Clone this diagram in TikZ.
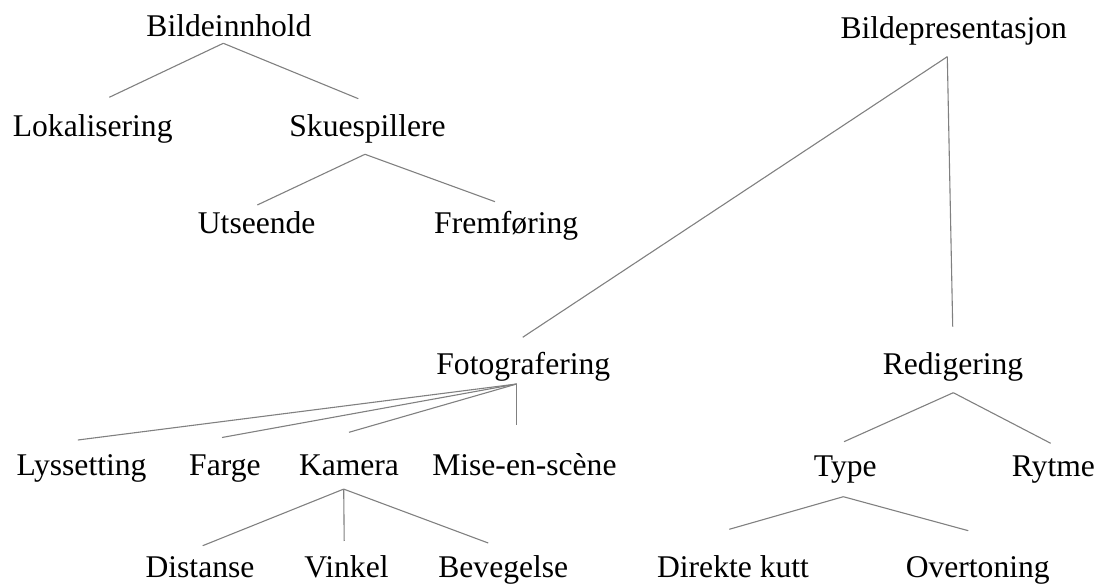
\documentclass[tikz,border=0pt]{standalone}
\usepackage{fontspec}
\setmainfont{Liberation Serif}
\usetikzlibrary{calc}
\begin{document}
\begin{tikzpicture}[x=1pt,y=1pt,
  lbl/.style={anchor=base,inner sep=0pt,font=\fontsize{31.6}{38}\selectfont},
  edge/.style={draw=black!50,line width=1.1pt}]
\useasboundingbox (0,0) rectangle (1099,585);
% nodes
\node[lbl] (bi)   at (229,548)   {Bildeinnhold};
\node[lbl] (lok)  at (92.7,448)  {Lokalisering};
\node[lbl] (sku)  at (367.5,448) {Skuespillere};
\node[lbl] (uts)  at (256.7,351) {Utseende};
\node[lbl] (fre)  at (506.2,351) {Fremføring};
\node[lbl] (bp)   at (953.7,546) {Bildepresentasjon};
\node[lbl] (foto) at (523.3,210) {Fotografering};
\node[lbl] (red)  at (953,210)   {Redigering};
\node[lbl] (lys)  at (81.5,109)  {Lyssetting};
\node[lbl] (far)  at (224.9,109) {Farge};
\node[lbl] (kam)  at (349,109)   {Kamera};
\node[lbl] (mise) at (524.4,109) {Mise-en-scène};
\node[lbl] (typ)  at (845.3,108) {Type};
\node[lbl] (ryt)  at (1053.4,108){Rytme};
\node[lbl] (dis)  at (200,7.5)   {Distanse};
\node[lbl] (vin)  at (346.5,7.5) {Vinkel};
\node[lbl] (bev)  at (503.3,7.5) {Bevegelse};
\node[lbl] (dir)  at (733,7.5)   {Direkte kutt};
\node[lbl] (ove)  at (977.7,7.5) {Overtoning};
% connectors
\draw[edge] ($(bi.base)+(-5.7,-6.3)$) -- ($(lok.base)+(16.6,39.7)$);
\draw[edge] ($(bi.base)+(-5.7,-6.3)$) -- ($(sku.base)+(-9.2,38.3)$);
\draw[edge] ($(sku.base)+(-2.5,-17.3)$) -- ($(uts.base)+(0.6,29)$);
\draw[edge] ($(sku.base)+(-2.5,-17.3)$) -- ($(fre.base)+(-11.2,32.3)$);
\draw[edge] ($(bp.base)+(-6.4,-17.7)$) -- ($(foto.base)+(-0.6,37.7)$);
\draw[edge] ($(bp.base)+(-6.4,-17.7)$) -- ($(red.base)+(-0.3,48.3)$);
\draw[edge] ($(foto.base)+(-6.6,-9)$) -- ($(lys.base)+(-3.6,36)$);
\draw[edge] ($(foto.base)+(-6.6,-9)$) -- ($(far.base)+(-2.9,38.5)$);
\draw[edge] ($(foto.base)+(-6.6,-9)$) -- ($(kam.base)+(0,43.7)$);
\draw[edge] ($(foto.base)+(-6.6,-9)$) -- ($(mise.base)+(-7.7,50.5)$);
\draw[edge] ($(kam.base)+(-5.3,-13.1)$) -- ($(dis.base)+(2.7,31.8)$);
\draw[edge] ($(kam.base)+(-5.3,-13.1)$) -- ($(vin.base)+(-2.3,36.5)$);
\draw[edge] ($(kam.base)+(-5.3,-13.1)$) -- ($(bev.base)+(-15.1,34.5)$);
\draw[edge] ($(red.base)+(0.3,-17.7)$) -- ($(typ.base)+(-1.3,35.3)$);
\draw[edge] ($(red.base)+(0.3,-17.7)$) -- ($(ryt.base)+(-2.7,33.7)$);
\draw[edge] ($(typ.base)+(-2,-19.7)$) -- ($(dir.base)+(-3.7,48.2)$);
\draw[edge] ($(typ.base)+(-2,-19.7)$) -- ($(ove.base)+(-9.4,46.8)$);
\end{tikzpicture}
\end{document}
